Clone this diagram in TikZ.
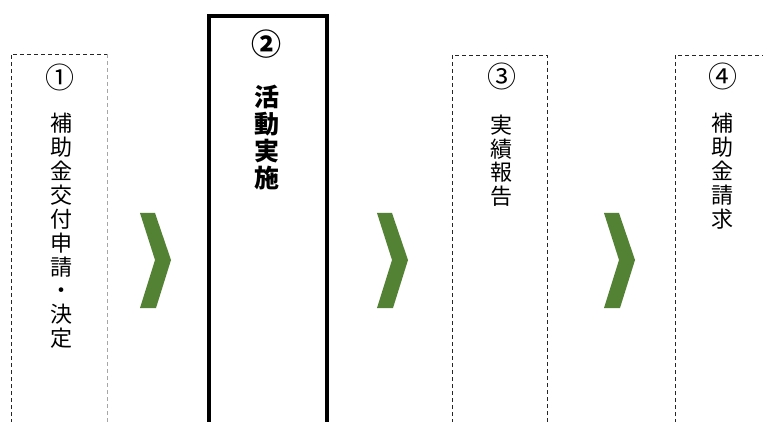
\documentclass[tikz,border=0pt]{standalone}
\usepackage{fontspec}
\newfontfamily\cjk{Noto Sans CJK JP}
\definecolor{chev}{HTML}{548235}
\begin{document}
\begin{tikzpicture}[x=1pt,y=-1pt,
  dashbox/.style={draw=black!85,line width=0.9pt,dash pattern=on 4pt off 3pt},
  vtext/.style={inner sep=0pt,anchor=north,align=center},
  numlab/.style={inner sep=0pt,font={\cjk\fontsize{29}{29}\selectfont}},
  chevron/.style={fill=chev,draw=none}]
\useasboundingbox (0,0) rectangle (763,422);
% box 1
\draw[dashbox] (11,430) -- (11,54) -- (107,54);
\draw[dashbox,draw=black!35] (107,54) -- (107,430);
% box 2
\draw[line width=3.5pt] (209,430) -- (209,16) -- (327,16) -- (327,430);
% box 3
\draw[dashbox] (452,430) -- (452,55) -- (547,55) -- (547,430);
% box 4
\draw[dashbox] (675,430) -- (675,55) -- (770,55);
% numbers
\node[numlab] (n1) at (60,77) {①};
\node[numlab,font={\cjk\bfseries\fontsize{30}{30}\selectfont}] (n2) at (266,44) {②};
\node[numlab] (n3) at (502,76) {③};
\node[numlab] (n4) at (723,76) {④};
% texts
\node[vtext,font={\cjk\fontsize{22}{23.9}\selectfont}] (t1) at (61.5,113)
  {補\\助\\金\\交\\付\\申\\請\\・\\決\\定};
\node[vtext,font={\cjk\bfseries\fontsize{25}{27}\selectfont}] (t2) at (267,85)
  {活\\動\\実\\施};
\node[vtext,font={\cjk\fontsize{22}{23.5}\selectfont}] (t3) at (501,115)
  {実\\績\\報\\告};
\node[vtext,font={\cjk\fontsize{22}{24}\selectfont}] (t4) at (722,113)
  {補\\助\\金\\請\\求};
% chevrons
\foreach \dx in {0,237,464}{
  \fill[chevron] (140+\dx,213) -- (155+\dx,213) -- (171+\dx,260) -- (156+\dx,308)
     -- (140+\dx,308) -- (155+\dx,260) -- cycle;
}
\end{tikzpicture}
\end{document}
